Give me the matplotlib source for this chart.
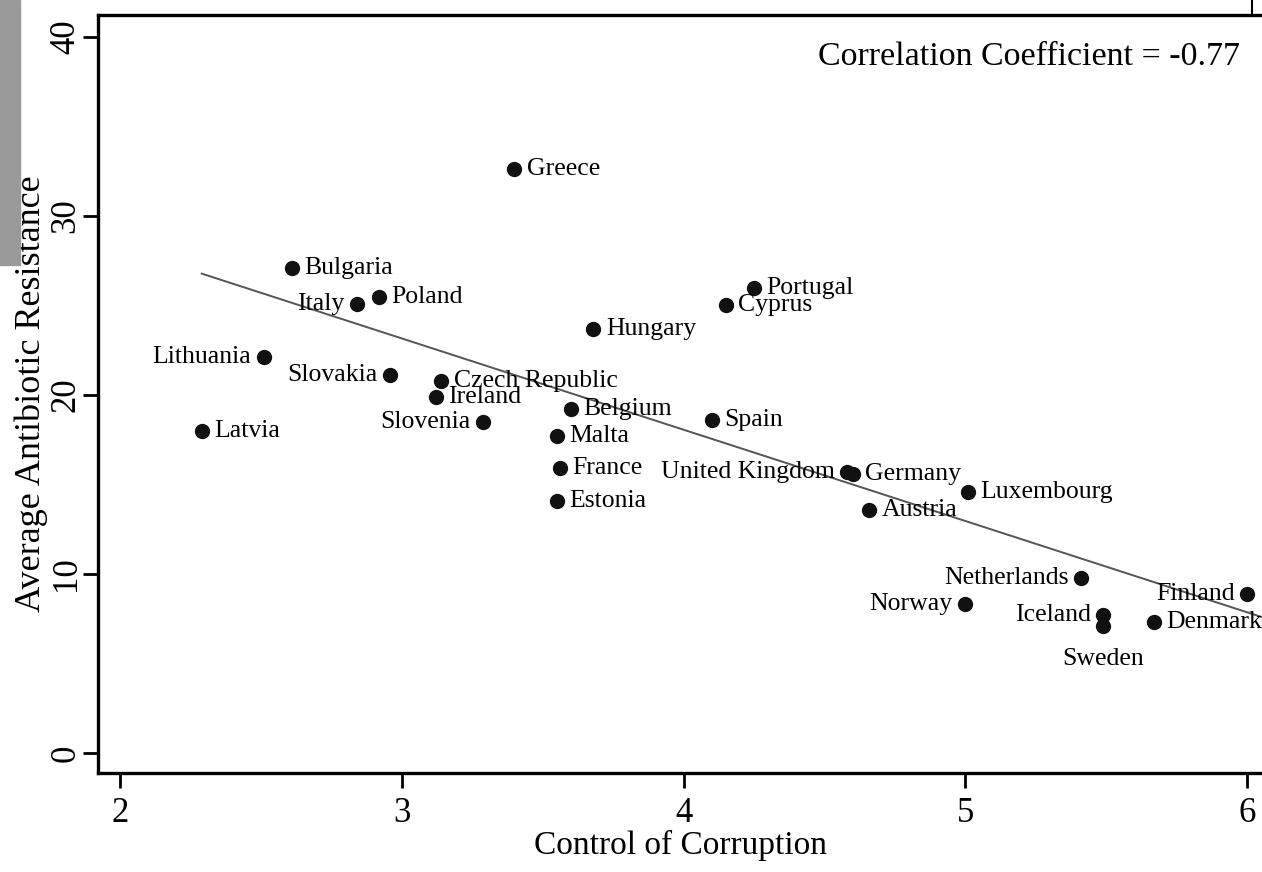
import numpy as np
import matplotlib
matplotlib.use("Agg")
import matplotlib.pyplot as plt
from matplotlib.patches import Rectangle
from matplotlib.lines import Line2D

# country data
countries = ["Greece", "Bulgaria", "Italy", "Poland", "Portugal", "Cyprus", "Hungary",
             "Lithuania", "Slovakia", "Czech Republic", "Ireland", "Belgium", "Latvia",
             "Slovenia", "Spain", "Malta", "France", "Estonia", "United Kingdom", "Germany",
             "Luxembourg", "Austria", "Netherlands", "Norway", "Iceland", "Sweden",
             "Finland", "Denmark"]
corruption = [3.40, 2.61, 2.84, 2.92, 4.25, 4.15, 3.68,
              2.51, 2.96, 3.14, 3.12, 3.60, 2.29,
              3.29, 4.10, 3.55, 3.56, 3.55, 4.58, 4.60,
              5.01, 4.66, 5.41, 5.00, 5.49, 5.49,
              6.00, 5.67]
resistance = [32.6, 27.1, 25.1, 25.5, 26.0, 25.0, 23.7,
              22.1, 21.1, 20.8, 19.9, 19.2, 18.0,
              18.5, 18.6, 17.7, 15.9, 14.1, 15.7, 15.6,
              14.6, 13.6, 9.8, 8.3, 7.7, 7.1,
              8.9, 7.3]

# fitted line as drawn in the original
fit_intercept = 38.46
fit_slope = -5.10

x_ticks = [2, 3, 4, 5, 6]
y_ticks = [0, 10, 20, 30, 40]
corr_text = "Correlation Coefficient = -0.77"

# where each label sits relative to its dot
left_labels = {"Italy", "Lithuania", "Slovakia", "Slovenia", "United Kingdom",
               "Netherlands", "Norway", "Iceland", "Finland"}
below_labels = {"Sweden"}

plt.rcParams['font.family'] = ['Liberation Serif', 'DejaVu Serif']

fig = plt.figure(figsize=(12.62, 8.72), dpi=100)
ax = fig.add_axes([98 / 1262, 1 - 773 / 872, 1 - 98 / 1262, (773 - 15) / 872])

xl = np.array([min(corruption), 6.06])
ax.plot(xl, fit_intercept + fit_slope * xl, color='#555555', lw=1.4, zorder=1)

ax.scatter(corruption, resistance, s=100, color='#111111', zorder=3)

for name, xv, yv in zip(countries, corruption, resistance):
    if name in below_labels:
        ax.annotate(name, (xv, yv), xytext=(0, -24), textcoords='offset points',
                    ha='center', va='center', fontsize=18.5)
    elif name in left_labels:
        ax.annotate(name, (xv, yv), xytext=(-9, 0), textcoords='offset points',
                    ha='right', va='center', fontsize=18.5)
    else:
        ax.annotate(name, (xv, yv), xytext=(9, 0), textcoords='offset points',
                    ha='left', va='center', fontsize=18.5)

ax.set_xlim(1.922, 6.053)
ax.set_ylim(-1.12, 41.23)
ax.set_xticks(x_ticks)
ax.set_yticks(y_ticks)
ax.tick_params(axis='both', direction='out', length=11, width=2, labelsize=25)
ax.tick_params(axis='y', pad=0)
ax.tick_params(axis='x', pad=6)
ax.set_yticklabels([str(v) for v in y_ticks], rotation=90, va='center')
ax.set_xlabel("Control of Corruption", fontsize=24, labelpad=0)
ax.set_ylabel("Average Antibiotic Resistance", fontsize=26, labelpad=1)

for side in ['left', 'bottom', 'top']:
    ax.spines[side].set_linewidth(2.4)
ax.spines['right'].set_visible(False)

ax.text(1240 / 1262, 1 - 57 / 872, corr_text, transform=fig.transFigure,
        ha='right', va='center', fontsize=24.5)

# scan artefacts at the edges of the original
fig.patches.append(Rectangle((0, 1 - 265 / 872), 20 / 1262, 265 / 872,
                             transform=fig.transFigure, color='#9a9a9a', zorder=0))
fig.lines.append(Line2D([1252 / 1262, 1252 / 1262], [1, 1 - 15 / 872],
                        transform=fig.transFigure, color='black', lw=1.5))

fig.savefig("out.png", dpi=100)
